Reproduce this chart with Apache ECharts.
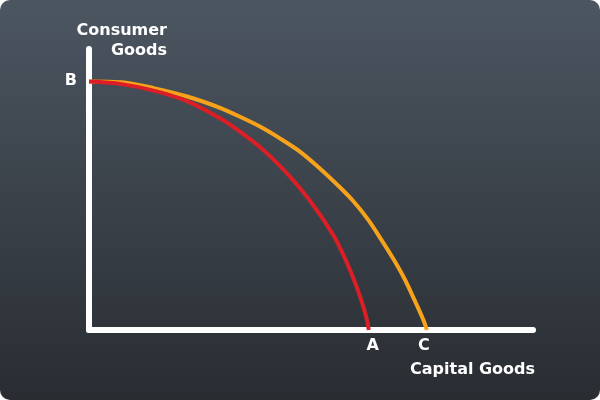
<!DOCTYPE html>
<html>
<head>
<meta charset="utf-8">
<script src="https://cdn.jsdelivr.net/npm/echarts@6/dist/echarts.min.js"></script>
<style>
html,body{margin:0;padding:0;background:#ffffff;}
#chart{width:600px;height:400px;border-radius:10px;overflow:hidden;}
</style>
</head>
<body>
<div id="chart"></div>
<script>
// Production possibility frontiers (x: capital goods %, y: consumer goods %)
const redX = [0, 7.3, 14.8, 22.3, 29.8, 34.0, 38.5, 43.0, 47.5, 52.0, 55.4, 57.7, 59.7, 61.3, 62.6, 63.0];
const redY = [88.4, 87.5, 85.1, 81.3, 75.1, 70.6, 65.1, 58.4, 50.5, 41.1, 32.7, 25.3, 17.8, 10.7, 3.6, 0];
const orangeX = [0, 7.3, 14.8, 22.3, 29.8, 34.0, 38.5, 43.0, 47.5, 52.0, 56.5, 59.5, 62.9, 65.9, 68.7, 71.2, 73.3, 75.3, 76.1];
const orangeY = [88.4, 88.2, 86.0, 83.0, 78.9, 75.9, 72.4, 68.2, 63.5, 57.5, 50.8, 45.9, 39.2, 32.0, 24.9, 17.8, 10.7, 3.6, 0];
const pointLabels = ['B', 'A', 'C'];
const axisTitles = { x: 'Capital Goods', y: 'Consumer\nGoods' };

const font = '"DejaVu Sans", sans-serif';
const txt = { color: '#ffffff', opacity: 1, fontSize: 16, fontWeight: 'bold', fontFamily: font };

const labelPoints = [
  { value: [redX[0], redY[0]], label: Object.assign({ formatter: pointLabels[0], position: 'left', distance: 12, offset: [0, -1] }, txt) },
  { value: [redX[redX.length - 1], 0], label: Object.assign({ formatter: pointLabels[1], position: 'bottom', distance: 8, offset: [4, 0] }, txt) },
  { value: [orangeX[orangeX.length - 1], 0], label: Object.assign({ formatter: pointLabels[2], position: 'bottom', distance: 8, offset: [-3, 0] }, txt) }
];

const chart = echarts.init(document.getElementById('chart'));
chart.setOption({
  backgroundColor: {
    type: 'linear', x: 0, y: 0, x2: 0, y2: 1,
    colorStops: [{ offset: 0, color: '#4c5661' }, { offset: 1, color: '#292d32' }]
  },
  animation: false,
  grid: { left: 89, right: 67, top: 49, bottom: 70 },
  xAxis: {
    type: 'value', min: 0, max: 100,
    axisLine: { show: true, lineStyle: { color: '#ffffff', width: 6, cap: 'round' } },
    axisTick: { show: false }, axisLabel: { show: false }, splitLine: { show: false }
  },
  yAxis: {
    type: 'value', min: 0, max: 100,
    axisLine: { show: true, lineStyle: { color: '#ffffff', width: 6, cap: 'round' } },
    axisTick: { show: false }, axisLabel: { show: false }, splitLine: { show: false }
  },
  series: [
    {
      type: 'line', smooth: 0.3, symbol: 'none',
      lineStyle: { color: '#f7a21b', width: 4 },
      data: orangeX.map((x, i) => [x, orangeY[i]]), z: 2
    },
    {
      type: 'line', smooth: 0.3, symbol: 'none',
      lineStyle: { color: '#dc1f26', width: 4 },
      data: redX.map((x, i) => [x, redY[i]]), z: 3
    },
    {
      type: 'scatter', symbolSize: 0, silent: true,
      itemStyle: { opacity: 1 },
      label: { show: true },
      emphasis: { disabled: true },
      data: labelPoints, z: 4
    }
  ],
  graphic: [
    {
      type: 'text', x: 167, y: 21,
      style: { text: axisTitles.y, fill: '#ffffff', font: 'bold 16px ' + font, align: 'right', lineHeight: 20 }
    },
    {
      type: 'text', x: 410, y: 362,
      style: { text: axisTitles.x, fill: '#ffffff', font: 'bold 16px ' + font }
    }
  ]
});
</script>
</body>
</html>
